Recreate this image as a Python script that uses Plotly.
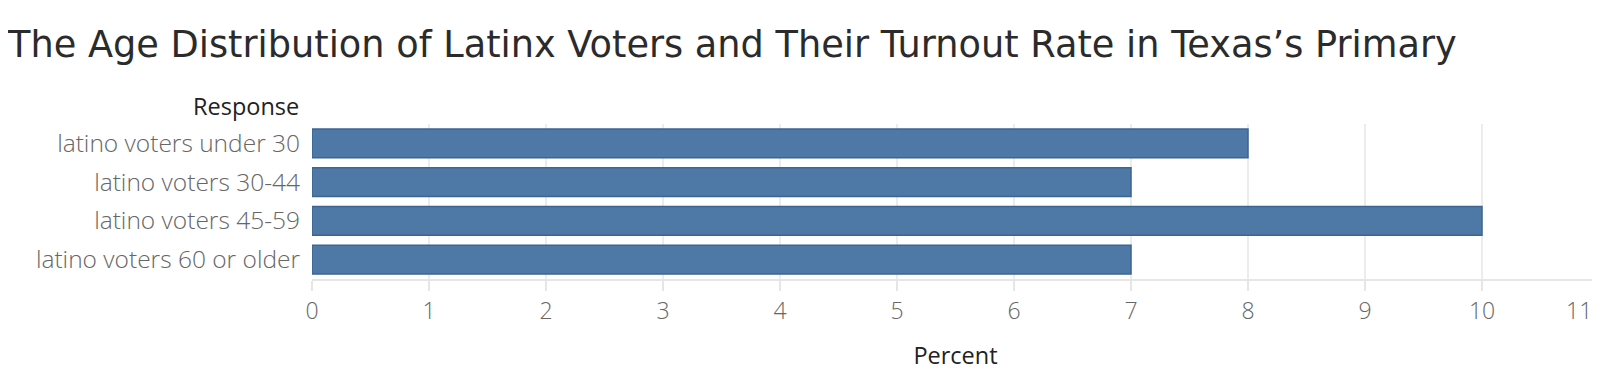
import plotly.graph_objects as go

categories = ["latino voters under 30", "latino voters 30-44", "latino voters 45-59", "latino voters 60 or older"]
percent = [8, 7, 10, 7]
x_ticks = list(range(0, 12))
x_tick_text = [str(v) for v in x_ticks[:-1]] + [""]
last_tick = x_ticks[-1]

# the page body adds an 8px offset, so the figure is sized to fit the window
W, H = 1592, 377
L, R, T, B = 304, 1, 116, 106

fig = go.Figure(go.Bar(
    x=percent, y=categories, orientation="h",
    marker=dict(color="#4E79A7", line=dict(color="#3C6591", width=1.5)),
    width=0.74,
    hoverinfo="skip",
))

fig.update_layout(
    width=W, height=H,
    margin=dict(l=L, r=R, t=T, b=B, autoexpand=False),
    paper_bgcolor="white", plot_bgcolor="white",
    showlegend=False,
    title=dict(
        text="The Age Distribution of Latinx Voters and Their Turnout Rate in Texas\u2019s Primary",
        x=0, xanchor="left", xref="container",
        y=1 - 36 / H, yanchor="middle", yref="container",
        font=dict(family="DejaVu Sans", size=36.7, color="#2b2b2b"),
    ),
    xaxis=dict(
        range=[0, 11], tickvals=x_ticks, ticktext=x_tick_text,
        showgrid=True, gridcolor="#ececec", gridwidth=1.5,
        zeroline=False, automargin=False,
        showline=True, linecolor="#e6e6e6", linewidth=2,
        ticks="outside", ticklen=10, tickcolor="#e6e6e6", tickwidth=1.5,
        tickfont=dict(family="Open Sans", size=23, color="#666666", weight=300),
        title=dict(text="Percent", font=dict(family="Open Sans", size=23.5, color="#222222"), standoff=23),
        fixedrange=True,
    ),
    yaxis=dict(
        categoryorder="array", categoryarray=categories[::-1],
        showgrid=False, zeroline=False, showline=False, automargin=False,
        ticks="", ticklabelstandoff=11,
        tickfont=dict(family="Open Sans", size=24.5, color="#666666", weight=300),
        fixedrange=True,
    ),
    bargap=0.26,
)

# last tick label kept inside the figure, as in the reference
fig.add_annotation(
    text=str(last_tick), xref="x", yref="paper",
    x=last_tick, y=0, xanchor="right", yanchor="top", yshift=-13, xshift=-5,
    showarrow=False,
    font=dict(family="Open Sans", size=23, color="#666666", weight=300),
)

fig.add_annotation(
    text="Response", xref="paper", yref="paper",
    x=(293 - L) / (W - L - R), y=(H - B - 98) / (H - T - B),
    xanchor="right", yanchor="middle", showarrow=False,
    font=dict(family="Open Sans", size=23.5, color="#222222"),
)

fig.write_html("out.html")
